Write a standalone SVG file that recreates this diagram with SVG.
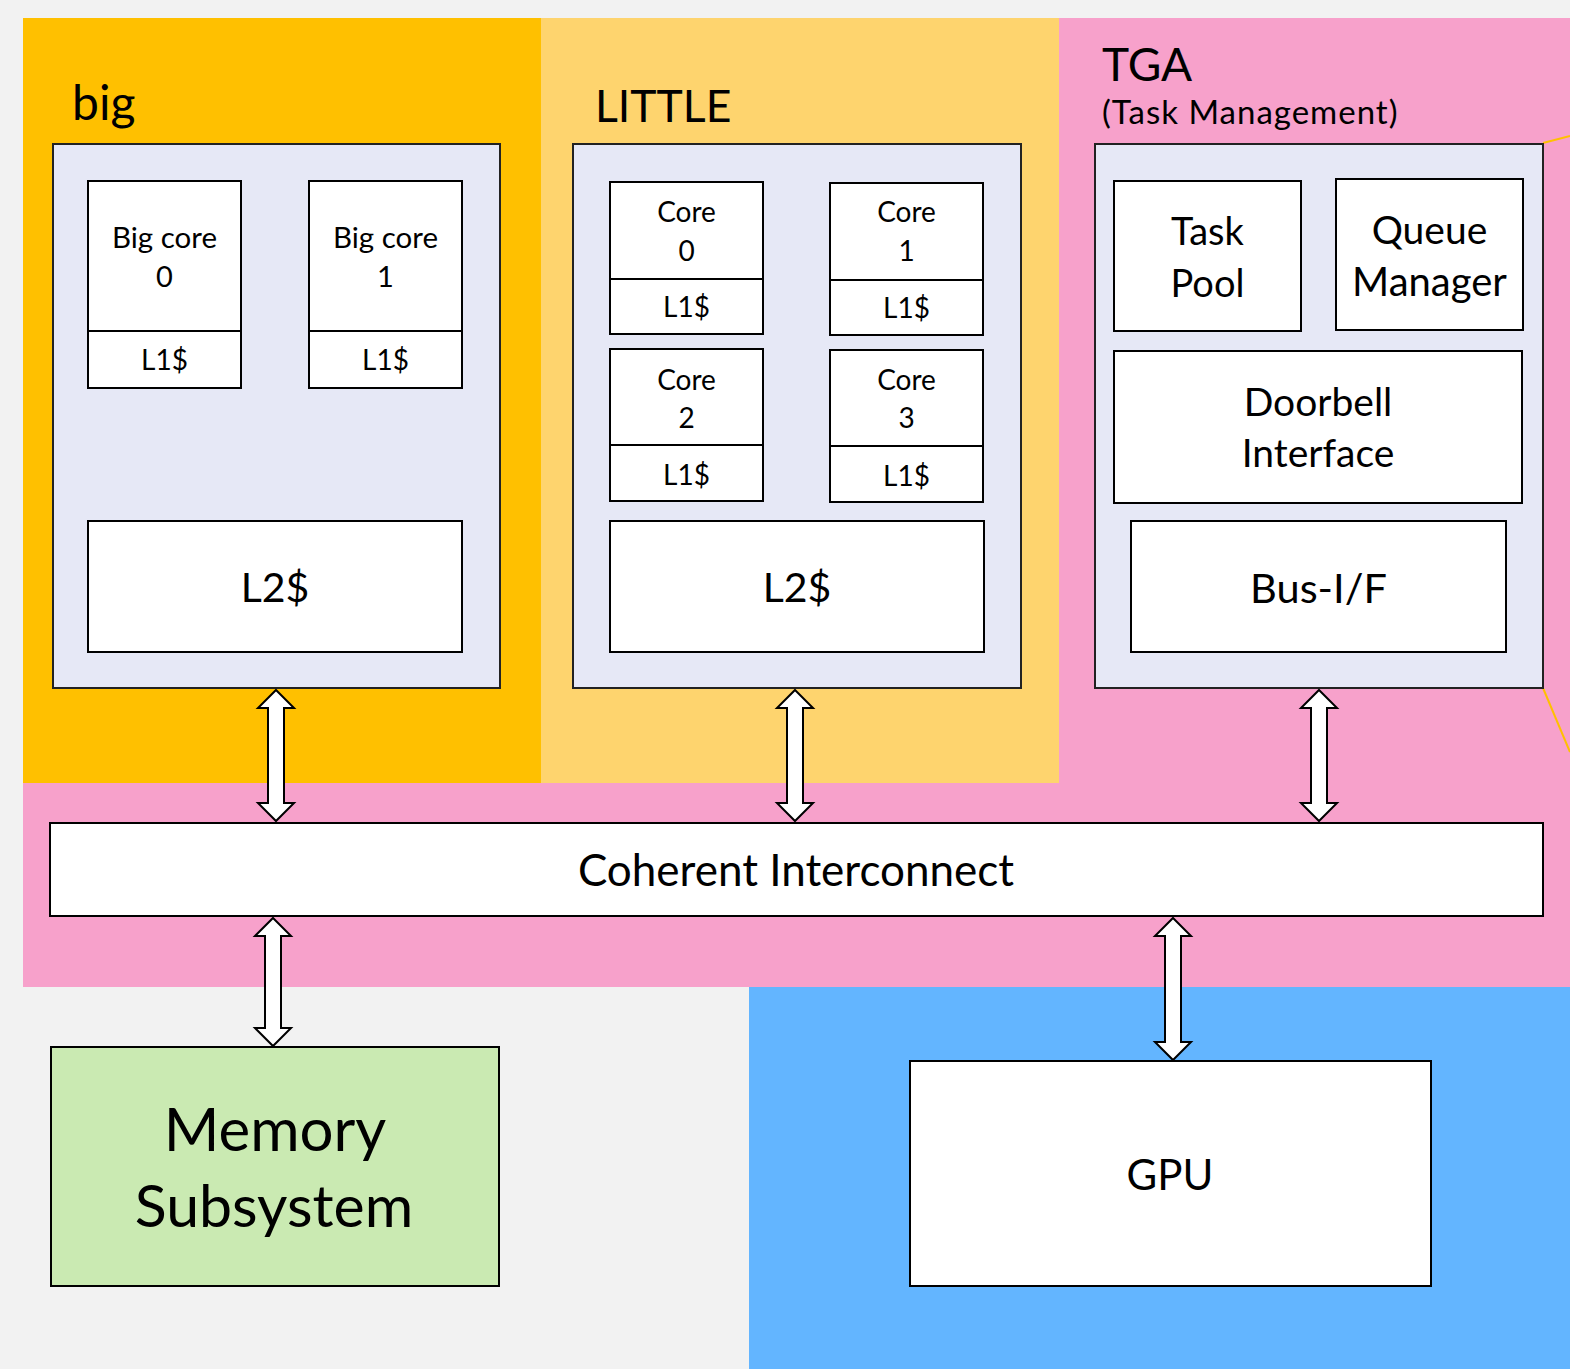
<svg xmlns="http://www.w3.org/2000/svg" width="1570" height="1369" viewBox="0 0 1570 1369">
  <defs>
    <style>
      .box { fill: #ffffff; stroke: #000000; stroke-width: 2; }
      .frame { fill: #e6e8f6; stroke: #222222; stroke-width: 2; }
      .div { stroke: #000000; stroke-width: 2; }
      .t { font-family: Lato, "Liberation Sans", sans-serif; fill: #000000; text-anchor: middle; }
      .title { font-family: Lato, "Liberation Sans", sans-serif; fill: #000000; }
      .arrow { fill: #ffffff; stroke: #000000; stroke-width: 2; stroke-linejoin: miter; }
    </style>
  </defs>

  <!-- page background -->
  <rect x="0" y="0" width="1570" height="1369" fill="#f2f2f2"/>

  <!-- cluster backgrounds -->
  <rect x="23" y="18" width="518" height="765" fill="#ffc000"/>
  <rect x="541" y="18" width="518" height="765" fill="#fed46e"/>
  <path d="M1059 18 H1570 V987 H23 V783 H1059 Z" fill="#f7a1cb"/>
  <rect x="749" y="987" width="821" height="382" fill="#63b5ff"/>

  <!-- callout lines off the TGA block -->
  <line x1="1543" y1="143" x2="1570" y2="136" stroke="#ffc000" stroke-width="2"/>
  <line x1="1543" y1="688" x2="1570" y2="752" stroke="#ffc000" stroke-width="2"/>

  <!-- big cluster -->
  <g id="big">
    <text class="title" x="72" y="120" font-size="48">big</text>
    <rect class="frame" x="53" y="144" width="447" height="544"/>
    <g id="big-core-0">
      <rect class="box" x="88" y="181" width="153" height="207"/>
      <line class="div" x1="88" y1="331" x2="241" y2="331"/>
      <text class="t" x="164.5" y="248" font-size="29.5">Big core</text>
      <text class="t" x="164.5" y="287" font-size="29">0</text>
      <text class="t" x="164.5" y="370" font-size="28">L1$</text>
    </g>
    <g id="big-core-1">
      <rect class="box" x="309" y="181" width="153" height="207"/>
      <line class="div" x1="309" y1="331" x2="462" y2="331"/>
      <text class="t" x="385.5" y="248" font-size="29.5">Big core</text>
      <text class="t" x="385.5" y="287" font-size="29">1</text>
      <text class="t" x="385.5" y="370" font-size="28">L1$</text>
    </g>
    <g id="big-l2">
      <rect class="box" x="88" y="521" width="374" height="131"/>
      <text class="t" x="275" y="602" font-size="41">L2$</text>
    </g>
  </g>

  <!-- LITTLE cluster -->
  <g id="little">
    <text class="title" x="595" y="122" font-size="44.5">LITTLE</text>
    <rect class="frame" x="573" y="144" width="448" height="544"/>
    <g id="little-core-0">
      <rect class="box" x="610" y="182" width="153" height="152"/>
      <line class="div" x1="610" y1="279" x2="763" y2="279"/>
      <text class="t" x="686.5" y="222" font-size="28">Core</text>
      <text class="t" x="686.5" y="261" font-size="28">0</text>
      <text class="t" x="686.5" y="317" font-size="28">L1$</text>
    </g>
    <g id="little-core-1">
      <rect class="box" x="830" y="183" width="153" height="152"/>
      <line class="div" x1="830" y1="280" x2="983" y2="280"/>
      <text class="t" x="906.5" y="222" font-size="28">Core</text>
      <text class="t" x="906.5" y="261" font-size="28">1</text>
      <text class="t" x="906.5" y="318" font-size="28">L1$</text>
    </g>
    <g id="little-core-2">
      <rect class="box" x="610" y="349" width="153" height="152"/>
      <line class="div" x1="610" y1="445" x2="763" y2="445"/>
      <text class="t" x="686.5" y="390" font-size="28">Core</text>
      <text class="t" x="686.5" y="428" font-size="28">2</text>
      <text class="t" x="686.5" y="485" font-size="28">L1$</text>
    </g>
    <g id="little-core-3">
      <rect class="box" x="830" y="350" width="153" height="152"/>
      <line class="div" x1="830" y1="446" x2="983" y2="446"/>
      <text class="t" x="906.5" y="390" font-size="28">Core</text>
      <text class="t" x="906.5" y="428" font-size="28">3</text>
      <text class="t" x="906.5" y="486" font-size="28">L1$</text>
    </g>
    <g id="little-l2">
      <rect class="box" x="610" y="521" width="374" height="131"/>
      <text class="t" x="797" y="602" font-size="41">L2$</text>
    </g>
  </g>

  <!-- TGA block -->
  <g id="tga">
    <text class="title" x="1102" y="81" font-size="46">TGA</text>
    <text class="title" x="1102" y="124" font-size="33" letter-spacing="1">(Task Management)</text>
    <rect class="frame" x="1095" y="144" width="448" height="544"/>
    <g id="task-pool">
      <rect class="box" x="1114" y="181" width="187" height="150"/>
      <text class="t" x="1207.5" y="245" font-size="38">Task</text>
      <text class="t" x="1207.5" y="297" font-size="38">Pool</text>
    </g>
    <g id="queue-manager">
      <rect class="box" x="1336" y="179" width="187" height="151"/>
      <text class="t" x="1429.5" y="244" font-size="39">Queue</text>
      <text class="t" x="1429.5" y="296" font-size="40">Manager</text>
    </g>
    <g id="doorbell">
      <rect class="box" x="1114" y="351" width="408" height="152"/>
      <text class="t" x="1318" y="416" font-size="39">Doorbell</text>
      <text class="t" x="1318" y="467" font-size="39">Interface</text>
    </g>
    <g id="bus-if">
      <rect class="box" x="1131" y="521" width="375" height="131"/>
      <text class="t" x="1318.5" y="603" font-size="41.5">Bus-I/F</text>
    </g>
  </g>

  <!-- shared interconnect -->
  <g id="coherent-interconnect">
    <rect class="box" x="50" y="823" width="1493" height="93"/>
    <text class="t" x="796" y="886" font-size="44">Coherent Interconnect</text>
  </g>

  <g id="memory-subsystem">
    <rect x="51" y="1047" width="448" height="239" fill="#caeab2" stroke="#000000" stroke-width="2"/>
    <text class="t" x="275" y="1151" font-size="60">Memory</text>
    <text class="t" x="274" y="1227" font-size="59">Subsystem</text>
  </g>

  <g id="gpu">
    <rect class="box" x="910" y="1061" width="521" height="225"/>
    <text class="t" x="1170" y="1190" font-size="42">GPU</text>
  </g>

  <!-- bidirectional links -->
  <g id="connectors">
    <path class="arrow" d="M276 690 L294 708 H284 V803 H294 L276 821 L258 803 H268 V708 H258 Z"/>
    <path class="arrow" d="M795 690 L813 708 H803 V803 H813 L795 821 L777 803 H787 V708 H777 Z"/>
    <path class="arrow" d="M1319 690 L1337 708 H1327 V803 H1337 L1319 821 L1301 803 H1311 V708 H1301 Z"/>
    <path class="arrow" d="M273 918 L291 936 H281 V1028 H291 L273 1046 L255 1028 H265 V936 H255 Z"/>
    <path class="arrow" d="M1173 918 L1191 936 H1181 V1042 H1191 L1173 1060 L1155 1042 H1165 V936 H1155 Z"/>
  </g>
</svg>
